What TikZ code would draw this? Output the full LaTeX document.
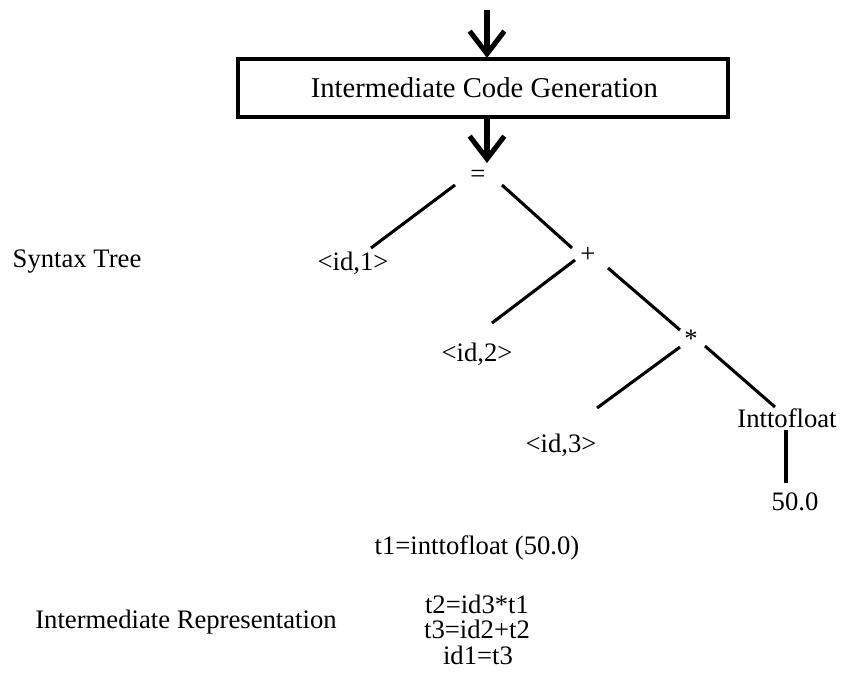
\documentclass[tikz,border=0pt]{standalone}
\usepackage{fontspec}
\setmainfont{Liberation Serif}
\usetikzlibrary{arrows.meta,calc}
\tikzset{
  lbl/.style={inner sep=0pt, font=\fontsize{20}{26}\selectfont},
  boxstyle/.style={draw, line width=3pt, minimum width=490*0.75pt, minimum height=58*0.75pt, inner sep=0pt, font=\fontsize{21.5}{26}\selectfont},
  edge/.style={line width=2.3pt},
  bigarrow/.style={line width=3.8pt, -{Straight Barb[length=17pt,width=26pt,line width=3.8pt]}},
}
\begin{document}
\begin{tikzpicture}[x=0.75pt,y=-0.75pt]
\useasboundingbox (0,0) rectangle (841,678);
% box and arrows
\node[boxstyle] (box) at (483,88) {\hspace{2pt}Intermediate Code Generation};
\coordinate (in) at (487,10);
\coordinate (boxtop) at (487,58);
\coordinate (boxbot) at (487,118);
\draw[bigarrow] (in) -- (boxtop);
% tree nodes
\node[lbl] (eq) at (478,176) {=};
\node[lbl] (id1) at (353,263) {<id,1>};
\node[lbl] (plus) at (588,255) {+};
\node[lbl] (id2) at (477,354) {<id,2>};
\node[lbl] (star) at (691,339) {*};
\node[lbl] (id3) at (561,445) {<id,3>};
\node[lbl] (itf) at (787,418) {Inttofloat};
\node[lbl] (fifty) at (795,502) {50.0};
\draw[bigarrow] (boxbot) -- ($(eq)+(9,-13)$);
% edges
\draw[edge] ($(eq)+(-23,9)$) -- ($(id1)+(18,-15)$);
\draw[edge] ($(eq)+(24,9)$) -- ($(plus)+(-16,-7)$);
\draw[edge] ($(plus)+(-13,5)$) -- ($(id2)+(15,-31)$);
\draw[edge] ($(plus)+(20,13)$) -- ($(star)+(-11,-9)$);
\draw[edge] ($(star)+(-11,8)$) -- ($(id3)+(36,-37)$);
\draw[edge] ($(star)+(14,7)$) -- ($(itf)+(-12,-11)$);
\draw[edge] ($(itf)+(-1,12)$) -- ($(fifty)+(-9,-19)$);
% side labels
\node[lbl] (syn) at (77,262) {Syntax Tree};
\node[lbl] (irep) at (186,622) {Intermediate Representation};
% code
\node[lbl] (t1) at (477,548) {t1=inttofloat (50.0)};
\node[lbl] (t2) at (477,604) {t2=id3*t1};
\node[lbl] (t3) at (477,629) {t3=id2+t2};
\node[lbl] (id1t3) at (478,655) {id1=t3};
\end{tikzpicture}
\end{document}
